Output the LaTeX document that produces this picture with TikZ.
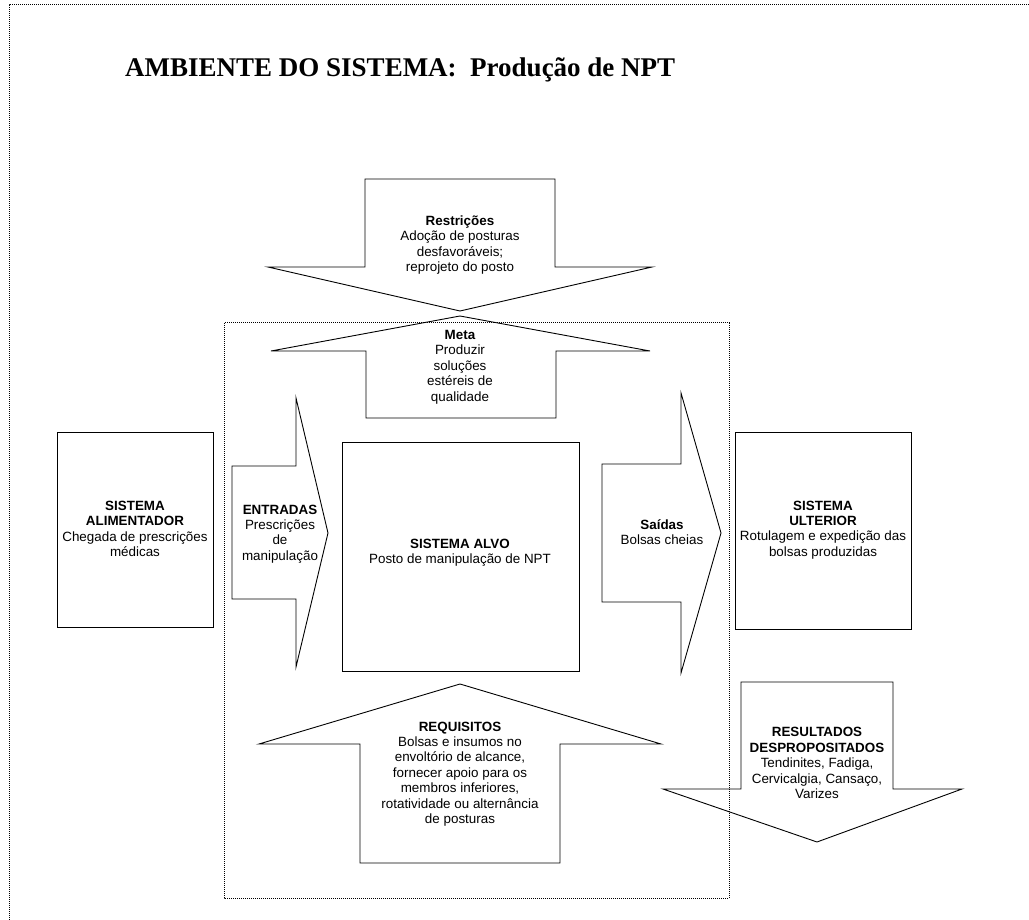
\documentclass[tikz,border=0pt]{standalone}
\usepackage{fontspec}
\setmainfont{Liberation Serif}
\newfontfamily\arialf{Liberation Sans}
\begin{document}
\begin{tikzpicture}[x=1pt,y=-1pt,
  shapeline/.style={draw=black, line width=0.9pt, line join=miter},
  frameline/.style={draw=black, line width=1pt, densely dotted},
  lbl/.style={font=\arialf\fontsize{13.4}{15.4}\selectfont, align=center, inner sep=0pt, text=black}]
\useasboundingbox (0,0) rectangle (1029,920);

% outer environment frame (only top and left visible)
\draw[frameline] (9,920) -- (9,5) -- (1029,5);
% inner system frame
\draw[frameline] (224,323) rectangle (729,898);

% title
\node[anchor=base west, inner sep=0pt, font=\bfseries\fontsize{27}{30}\selectfont] (title) at (125,77) {AMBIENTE DO SISTEMA:\ \ Produção de NPT};

% Restricoes (down arrow)
\draw[shapeline] (365,179) -- (555,179) -- (555,267) -- (652,267) -- (460,311) -- (268,267) -- (365,267) -- cycle;
\node[lbl] (restr) at (460,245) {\textbf{Restrições}\\Adoção de posturas\\desfavoráveis;\\reprojeto do posto};

% Meta (up arrow)
\draw[shapeline] (460,316) -- (650,351) -- (556,351) -- (556,418) -- (366,418) -- (366,351) -- (271,351) -- cycle;
\node[lbl] (meta) at (460,367) {\textbf{Meta}\\Produzir\\soluções\\estéreis de\\qualidade};

% Sistema alimentador
\draw[shapeline] (57,432) rectangle (213,627);
\node[lbl] (alim) at (135,529) {\textbf{SISTEMA}\\\textbf{ALIMENTADOR}\\Chegada de prescrições\\médicas};

% Entradas (right arrow)
\draw[shapeline] (232,466) -- (296,466) -- (296,398) -- (328,533) -- (296,667) -- (296,599) -- (232,599) -- cycle;
\node[lbl] (entr) at (280,534) {\textbf{ENTRADAS}\\Prescrições\\de\\manipulação};

% Sistema alvo
\draw[shapeline] (342,442) rectangle (579,671);
\node[lbl] (alvo) at (460,553) {\textbf{SISTEMA ALVO}\\Posto de manipulação de NPT};

% Saidas (right arrow)
\draw[shapeline] (602,464) -- (681,464) -- (681,393) -- (721,533) -- (681,673) -- (681,602) -- (602,602) -- cycle;
\node[lbl] (said) at (662,532) {\textbf{Saídas}\\Bolsas cheias};

% Sistema ulterior
\draw[shapeline] (735,432) rectangle (911,629);
\node[lbl] (ult) at (823,530) {\textbf{SISTEMA}\\\textbf{ULTERIOR}\\Rotulagem e expedição das\\bolsas produzidas};

% Requisitos (up arrow)
\draw[shapeline] (460,684) -- (661,744) -- (560,744) -- (560,863) -- (360,863) -- (360,744) -- (259,744) -- cycle;
\node[lbl] (req) at (460,774) {\textbf{REQUISITOS}\\Bolsas e insumos no\\envoltório de alcance,\\fornecer apoio para os\\membros inferiores,\\rotatividade ou alternância\\de posturas};

% Resultados despropositados (down arrow)
\draw[shapeline] (741,682) -- (893,682) -- (893,789) -- (962,789) -- (817,842) -- (663,789) -- (741,789) -- cycle;
\node[lbl] (res) at (817,763) {\textbf{RESULTADOS}\\\textbf{DESPROPOSITADOS}\\Tendinites, Fadiga,\\Cervicalgia, Cansaço,\\Varizes};
\end{tikzpicture}
\end{document}
